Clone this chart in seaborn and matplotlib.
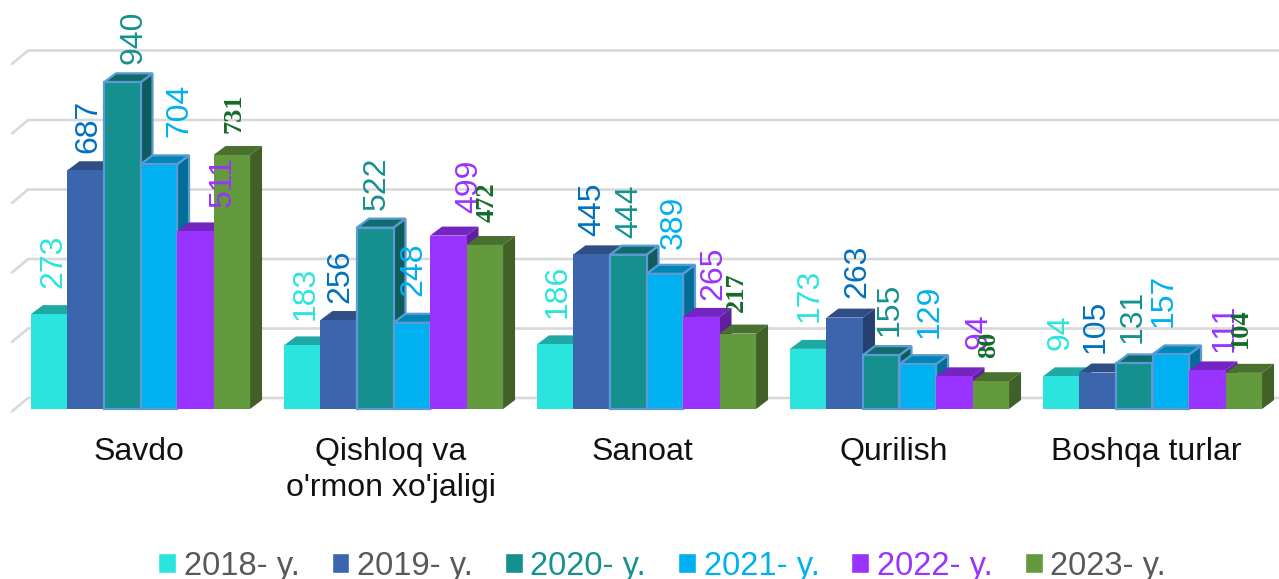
import numpy as np
import pandas as pd
import matplotlib
matplotlib.use("Agg")
import matplotlib.pyplot as plt
from matplotlib.patches import Polygon
import seaborn as sns

categories = ["Savdo", "Qishloq va\no'rmon xo'jaligi", "Sanoat", "Qurilish", "Boshqa turlar"]
years = ["2018- y.", "2019- y.", "2020- y.", "2021- y.", "2022- y.", "2023- y."]
v2018 = [273, 183, 186, 173, 94]
v2019 = [687, 256, 445, 263, 105]
v2020 = [940, 522, 444, 155, 131]
v2021 = [704, 248, 389, 129, 157]
v2022 = [511, 499, 265, 94, 111]
v2023 = [731, 472, 217, 80, 104]
grid_values = [0, 200, 400, 600, 800, 1000]

front_colors = ["#2BE4DE", "#3B65AD", "#168F8F", "#00B0F0", "#9933FF", "#629A3D"]
top_colors = ["#1FA9A5", "#2E4E85", "#116B6B", "#0085B5", "#7424C0", "#4A7030"]
side_colors = ["#1A8F8C", "#26416F", "#105C5C", "#006E96", "#601F9F", "#406028"]
label_colors = ["#2BE4DE", "#0070C0", "#169090", "#00B0F0", "#9933FF", "#146B2A"]
legend_colors = ["#595959", "#595959", "#169090", "#00B0F0", "#9933FF", "#595959"]
outlined = [False, False, True, True, False, False]

# label offsets from the bar top centre, in pixels, one row per series
label_dx = [[4, 3, 2, 1, -1], [3, 2, 1, 13, -2], [11, 2, 1, 8, -2],
            [21, 2, 9, 12, -7], [27, 21, 12, 24, 17], [2, 2, -1, -2, -3]]
label_dy = [[26, 25, 26, 27, 26], [17, 17, 18, 20, 20], [18, 18, 17, 19, 20],
            [27, 27, 25, 26, 27], [24, 23, 17, 27, 18], [22, 23, 22, 23, 25]]

W, H = 1279, 579
PX_PER_UNIT = 0.3475
PX_PER_CAT = 253

sns.set_theme(style="white")
plt.rcParams["font.family"] = ["Liberation Sans", "DejaVu Sans"]

values = [v2018, v2019, v2020, v2021, v2022, v2023]
df = pd.DataFrame({
    "category": categories * len(years),
    "year": np.repeat(years, len(categories)),
    "value": np.concatenate(values),
})

fig = plt.figure(figsize=(W / 100, H / 100), dpi=100)
ax = fig.add_axes([14 / W, (H - 409) / H, 1265 / W, 409 / H])
sns.barplot(data=df, x="category", y="value", hue="year", palette=front_colors,
            saturation=1, width=0.866, gap=0, ax=ax, legend=True)
ax.set_xlim(-0.5, 4.5)
ax.set_ylim(0, 409 / PX_PER_UNIT)

dx = 12 / PX_PER_CAT
dy = 9 / PX_PER_UNIT

# gridlines on the back wall, with the short slanted piece on the left
left_back = -0.5 + 14 / PX_PER_CAT
left_front = -0.5 - 2 / PX_PER_CAT
for g in grid_values:
    y = g + 11 / PX_PER_UNIT
    ax.plot([left_front, left_back, 4.5], [y - 13.5 / PX_PER_UNIT, y, y],
            color="#D9D9D9", lw=1.9, clip_on=False, zorder=1, solid_joinstyle="round")

for i, container in enumerate(ax.containers):
    style = {"edgecolor": "#5B9BD5", "linewidth": 1.6} if outlined[i] else {"linewidth": 0}
    for j, bar in enumerate(container):
        x0, w, h = bar.get_x(), bar.get_width(), bar.get_height()
        x1 = x0 + w
        bar.set_clip_on(False)
        bar.set_zorder(3 + i + 0.5)
        bar.set(**style)
        side = Polygon([(x1, 0), (x1 + dx, dy), (x1 + dx, h + dy), (x1, h)],
                       facecolor=side_colors[i], zorder=3 + i, clip_on=False, **style)
        top = Polygon([(x0, h), (x0 + dx, h + dy), (x1 + dx, h + dy), (x1, h)],
                      facecolor=top_colors[i], zorder=3 + i, clip_on=False, **style)
        ax.add_patch(side)
        ax.add_patch(top)

        # last series uses a bold serif label in the reference
        serif = i == len(years) - 1
        ax.annotate(str(values[i][j]), (x0 + w / 2, h),
                    xytext=(label_dx[i][j] * 0.72, label_dy[i][j] * 0.72),
                    textcoords="offset points", rotation=90, ha="center", va="bottom",
                    color=label_colors[i], fontsize=19 if serif else 23,
                    family="Liberation Serif" if serif else "Liberation Sans",
                    fontweight="bold" if serif else "normal", zorder=20,
                    annotation_clip=False)

ax.set_xlabel("")
ax.set_ylabel("")
ax.set_yticks([])
ax.set_xticks(np.arange(5) - np.array([1.5, 3, 4, 5.5, 6]) / PX_PER_CAT)
ax.set_xticklabels(categories, fontsize=23, color="#111111", linespacing=1.25)
ax.tick_params(axis="x", length=0, pad=20)
sns.despine(ax=ax, left=True, bottom=True, top=True, right=True)
ax.patch.set_alpha(0)

handles, labels = ax.get_legend_handles_labels()
leg = ax.legend(handles, labels, ncol=6, loc="center", frameon=False, fontsize=23.5,
                bbox_to_anchor=(662 / W, 1 - 566 / H), bbox_transform=fig.transFigure,
                handlelength=0.55, handleheight=0.55, handletextpad=0.23, columnspacing=0.98,
                borderpad=0, borderaxespad=0)
for text, c in zip(leg.get_texts(), legend_colors):
    text.set_color(c)

fig.savefig("out.png", dpi=100)
